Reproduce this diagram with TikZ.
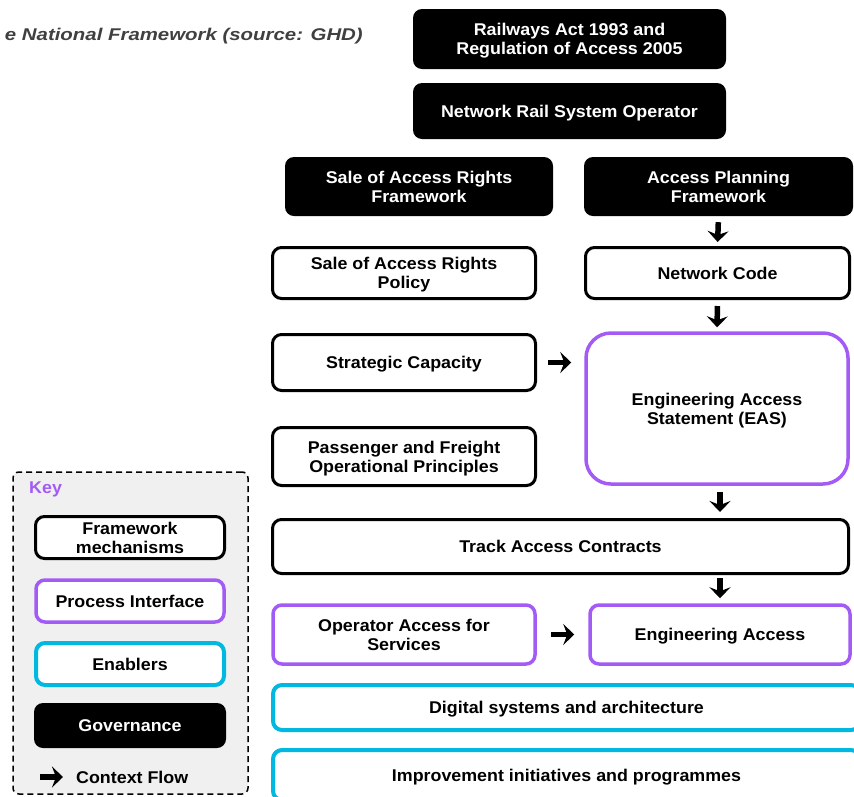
\documentclass[tikz,border=0pt]{standalone}
\usepackage{fontspec}
\setmainfont{Liberation Sans}[FakeStretch=1.05]
\newfontfamily\titlefont{Liberation Sans}[FakeStretch=1.2]
\usetikzlibrary{arrows.meta}
\definecolor{pur}{HTML}{A35BF5}
\definecolor{cya}{HTML}{00B8E0}
\definecolor{keyfill}{HTML}{F0F0F0}
\definecolor{titlegray}{HTML}{404040}
\begin{document}
\begin{tikzpicture}[x=1pt,y=1pt,
 base/.style={rounded corners=9pt, align=center, font=\fontsize{17}{19}\selectfont\bfseries, inner sep=0pt, fill=white, text depth=0pt},
 gov/.style={base, fill=black, text=white},
 fwk/.style={base, draw=black, line width=3pt},
 proc/.style={base, draw=pur, line width=3.5pt},
 enab/.style={base, draw=cya, line width=4pt},
 flow/.style={line width=5.5pt, -{Stealth[length=11pt,width=21pt,inset=4pt]}},
 sz/.style 2 args={minimum width=#1pt, minimum height=#2pt}
]
\useasboundingbox (0,0) rectangle (854,-796);

% title
\node[anchor=east, inner sep=0pt, text=titlegray, font=\titlefont\fontsize{17}{19}\selectfont\bfseries\itshape] (title) at (363,-36) {e National Framework (source: GHD)};

% governance
\node[gov, sz={313}{60}] (ra) at (569.5,-39) {Railways Act 1993 and\\Regulation of Access 2005};
\node[gov, sz={313}{56}] (nrso) at (569.5,-111) {Network Rail System Operator};
\node[gov, sz={268}{59}] (sarf) at (419,-186.5) {Sale of Access Rights\\Framework};
\node[gov, sz={269}{59}] (apf) at (718.5,-186.5) {Access Planning\\Framework};

% framework mechanisms
\node[fwk, sz={263}{51}] (sarp) at (404,-273) {Sale of Access Rights\\Policy};
\node[fwk, sz={264}{51}] (nc) at (717.5,-273) {Network Code};
\node[fwk, sz={263}{56}] (sc) at (404,-362.5) {Strategic Capacity};
\node[fwk, sz={263}{58}] (pfop) at (404,-456.5) {Passenger and Freight\\Operational Principles};
\node[fwk, sz={576}{54}] (tac) at (560.5,-546.5) {Track Access Contracts};

% process interfaces
\node[proc, rounded corners=25pt, sz={262}{151}] (eas) at (717,-408.5) {Engineering Access\\Statement (EAS)};
\node[proc, sz={262}{59}] (oas) at (404,-634.5) {Operator Access for\\Services};
\node[proc, sz={260}{59}] (ea) at (720,-634.5) {Engineering Access};

% enablers
\node[enab, sz={587}{45}] (dsa) at (566.5,-707.5) {Digital systems and architecture};
\node[enab, sz={587}{50}] (iip) at (566.5,-775) {Improvement initiatives and programmes};

% flows
\draw[flow, shorten <=6pt, shorten >=4pt] (apf.south) -- (nc.north);
\draw[flow, shorten <=6pt, shorten >=4pt] (nc.south) -- (eas.north);
\draw[flow, shorten <=11pt, shorten >=13pt] (sc.east) -- (sc.east -| eas.west);
\draw[flow, shorten <=6pt, shorten >=6pt] ([xshift=3pt]eas.south) -- ([xshift=3pt]eas.south |- tac.north);
\draw[flow, shorten <=3pt, shorten >=5pt] (ea.north |- tac.south) -- (ea.north);
\draw[flow, shorten <=14pt, shorten >=14pt] (oas.east) -- (oas.east -| ea.west);

% key
\node[draw=black, line width=1.5pt, dash pattern=on 6pt off 4pt, fill=keyfill, rounded corners=6pt, minimum width=235pt, minimum height=322pt, inner sep=0pt] (keybox) at (130.5,-633) {};
\node[anchor=west, inner sep=0pt, text=pur, font=\fontsize{17}{19}\selectfont\bfseries] (keylbl) at (29,-489) {Key};
\node[fwk, sz={189}{42}] (kfm) at (130,-537.5) {Framework\\mechanisms};
\node[proc, sz={188}{42}] (kpi) at (130,-601) {Process Interface};
\node[enab, sz={188}{42}] (ken) at (130,-664) {Enablers};
\node[gov, sz={192}{45}] (kgov) at (130,-725.5) {Governance};
\coordinate (ka) at (40,-777);
\coordinate (kb) at (63,-777);
\draw[flow] (ka) -- (kb);
\node[anchor=west, inner sep=0pt, font=\fontsize{17}{19}\selectfont\bfseries] (kcf) at (76,-777) {Context Flow};
\end{tikzpicture}
\end{document}
